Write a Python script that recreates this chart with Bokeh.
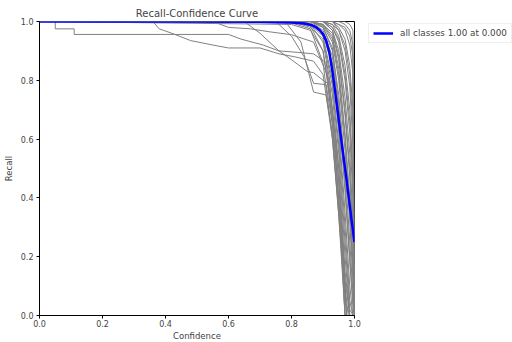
from bokeh.plotting import figure
from bokeh.models import Legend, LegendItem, FixedTicker, Range1d, CustomJSTickFormatter
from bokeh.embed import file_html
from bokeh.resources import INLINE

# ---- data ----
title_text = "Recall-Confidence Curve"
x_label = "Confidence"
y_label = "Recall"
tick_values = [0.0, 0.2, 0.4, 0.6, 0.8, 1.0]
legend_label = "all classes 1.00 at 0.000"

# shared confidence grid for the fast-dropping classes
conf_grid = [0.0, 0.8, 0.86, 0.9, 0.93, 0.95, 0.97, 0.985, 0.995, 1.0]
fast_recalls = [
    [1, 0.995, 0.975, 0.86, 0.6, 0.34, 0.0, 0, 0, 0],
    [1, 1, 0.985, 0.9, 0.67, 0.4, 0.05, 0, 0, 0],
    [1, 1, 0.99, 0.93, 0.75, 0.5, 0.15, 0, 0, 0],
    [1, 1, 0.99, 0.95, 0.8, 0.58, 0.25, 0.02, 0, 0],
    [1, 1, 0.995, 0.96, 0.85, 0.65, 0.35, 0.1, 0, 0],
    [1, 1, 1, 0.97, 0.88, 0.7, 0.42, 0.18, 0.03, 0],
    [1, 1, 1, 0.98, 0.9, 0.75, 0.5, 0.25, 0.08, 0],
    [1, 1, 1, 0.985, 0.93, 0.8, 0.56, 0.32, 0.12, 0],
    [1, 1, 1, 0.99, 0.95, 0.84, 0.62, 0.4, 0.18, 0],
    [1, 1, 1, 0.99, 0.96, 0.87, 0.68, 0.47, 0.25, 0],
    [1, 1, 1, 1, 0.97, 0.9, 0.74, 0.55, 0.32, 0],
    [1, 1, 1, 1, 0.98, 0.93, 0.8, 0.62, 0.4, 0],
    [1, 1, 1, 1, 0.99, 0.95, 0.85, 0.7, 0.48, 0],
    [1, 1, 1, 1, 0.99, 0.97, 0.9, 0.78, 0.58, 0],
    [1, 1, 1, 1, 1, 0.98, 0.94, 0.85, 0.7, 0],
    [1, 1, 1, 1, 1, 0.99, 0.97, 0.92, 0.82, 0],
    [1, 1, 1, 1, 1, 1, 0.99, 0.97, 0.92, 0],
    [1, 1, 1, 1, 1, 1, 1, 0.99, 0.97, 0],
    [1, 0.99, 0.97, 0.9, 0.7, 0.45, 0.12, 0, 0, 0],
    [1, 1, 0.98, 0.94, 0.78, 0.55, 0.2, 0, 0, 0],
    [1, 1, 0.99, 0.96, 0.86, 0.62, 0.3, 0.05, 0, 0],
    [1, 1, 1, 0.98, 0.91, 0.72, 0.45, 0.2, 0.05, 0],
    [1, 1, 1, 0.99, 0.94, 0.82, 0.6, 0.36, 0.15, 0],
    [1, 1, 1, 1, 0.97, 0.88, 0.7, 0.5, 0.28, 0],
    [1, 1, 1, 1, 0.98, 0.94, 0.82, 0.66, 0.45, 0],
    [1, 1, 1, 1, 1, 0.97, 0.92, 0.82, 0.64, 0],
    [1, 1, 1, 1, 1, 0.99, 0.98, 0.95, 0.88, 0],
]

# classes whose recall steps down earlier
step_confs = [
    [0, 0.05, 0.05, 0.11, 0.11, 0.6, 0.64, 0.71, 0.76, 0.82, 0.87, 0.91, 0.94, 0.96, 0.975, 1.0],
    [0, 0.36, 0.38, 0.42, 0.48, 0.55, 0.6, 0.7, 0.76, 0.81, 0.87, 0.9, 0.93, 0.955, 0.97, 1.0],
    [0, 0.55, 0.6, 0.67, 0.73, 0.8, 0.87, 0.92, 0.95, 0.97, 0.98, 1.0],
    [0, 0.65, 0.7, 0.76, 0.8, 0.85, 0.87, 0.9, 0.915, 0.94, 0.965, 0.975, 1.0],
    [0, 0.75, 0.8, 0.84, 0.87, 0.91, 0.93, 0.96, 0.975, 1.0],
    [0, 0.78, 0.83, 0.87, 0.91, 0.93, 0.96, 0.97, 1.0],
]
step_recalls = [
    [1, 1, 0.975, 0.975, 0.956, 0.956, 0.94, 0.92, 0.9, 0.895, 0.89, 0.86, 0.6, 0.3, 0, 0],
    [1, 1, 0.975, 0.96, 0.935, 0.92, 0.91, 0.91, 0.89, 0.88, 0.865, 0.82, 0.6, 0.3, 0, 0],
    [1, 1, 0.98, 0.975, 0.965, 0.955, 0.93, 0.8, 0.5, 0.1, 0, 0],
    [1, 1, 0.96, 0.9, 0.87, 0.83, 0.826, 0.8, 0.79, 0.55, 0.15, 0, 0],
    [1, 1, 0.95, 0.88, 0.79, 0.785, 0.65, 0.25, 0, 0],
    [1, 1, 0.93, 0.76, 0.75, 0.62, 0.2, 0, 0],
]

# mean curve over all classes
mean_conf = [0.0, 0.5, 0.7, 0.8, 0.84, 0.86, 0.87, 0.88, 0.89, 0.9, 0.91, 0.92,
             0.93, 0.94, 0.95, 0.96, 0.975, 0.99, 1.0]
mean_recall = [1.0, 1.0, 0.999, 0.997, 0.993, 0.989, 0.985, 0.979, 0.97, 0.957, 0.935, 0.895,
               0.83, 0.75, 0.665, 0.58, 0.46, 0.33, 0.25]

# ---- figure ----
FONT = "DejaVu Sans"
p = figure(frame_width=315, frame_height=294, output_backend="svg", toolbar_location=None,
           x_range=Range1d(0, 1), y_range=Range1d(0, 1),
           min_border_left=38, min_border_right=158, min_border_top=21, min_border_bottom=26)

xs = [conf_grid for _ in fast_recalls] + step_confs
ys = fast_recalls + step_recalls
p.multi_line(xs, ys, line_color="grey", line_width=1)

blue = p.line(mean_conf, mean_recall, line_color="blue", line_width=2.5)

legend = Legend(items=[LegendItem(label=legend_label, renderers=[blue])],
                location=(14, 272),
                label_text_font_size="8.8px", label_text_font=FONT,
                glyph_width=20, glyph_height=8, padding=4, spacing=0, margin=0,
                label_standoff=7, border_line_color="#e0e0e0", border_line_width=1,
                background_fill_alpha=0.8)
p.add_layout(legend, "right")

p.title.text = title_text
p.title.align = "center"
p.title.text_font_size = "10px"
p.title.text_font_style = "normal"
p.title.text_font = FONT
p.title.standoff = 5

p.xgrid.visible = False
p.ygrid.visible = False
p.outline_line_color = "black"
p.outline_line_width = 1

fmt = CustomJSTickFormatter(code="return tick.toFixed(1);")
for ax, lab in ((p.xaxis[0], x_label), (p.yaxis[0], y_label)):
    ax.ticker = FixedTicker(ticks=tick_values)
    ax.formatter = fmt
    ax.axis_label = lab
    ax.axis_label_text_font_size = "8.5px"
    ax.axis_label_text_font_style = "normal"
    ax.axis_label_text_font = FONT
    ax.major_label_text_font_size = "8px"
    ax.major_label_text_font = FONT
    ax.major_tick_out = 3
    ax.major_tick_in = 0
    ax.minor_tick_line_color = None
    ax.axis_line_color = "black"
    ax.major_tick_line_color = "black"
p.xaxis[0].major_label_standoff = 1
p.xaxis[0].axis_label_standoff = 1
p.yaxis[0].major_label_standoff = 3
p.yaxis[0].axis_label_standoff = 4

open("out.html", "w").write(file_html(p, INLINE))
